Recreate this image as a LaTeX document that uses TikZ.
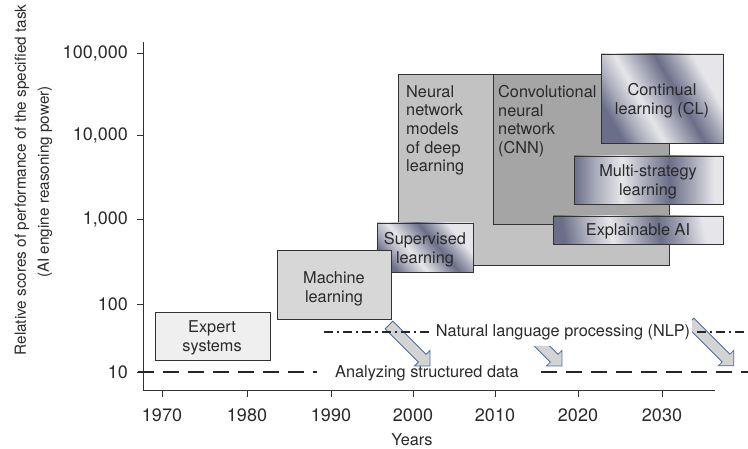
\documentclass[tikz,border=0pt]{standalone}
\usepackage{fontspec}
\setmainfont{TeX Gyre Heros}
\definecolor{txt}{HTML}{2A2A2A}
\definecolor{axisc}{HTML}{333333}
\definecolor{mdark}{HTML}{6A6E88}
\definecolor{mmid}{HTML}{A8AAB9}
\definecolor{mlight}{HTML}{E6E6EA}
\definecolor{expertc}{HTML}{EFEFEF}
\definecolor{machinec}{HTML}{D7D7D7}
\definecolor{neuralc}{HTML}{C2C2C2}
\definecolor{cnnc}{HTML}{A5A5A5}
\definecolor{arrfill}{HTML}{D3D3D3}
\definecolor{arrdraw}{HTML}{4C6FA3}
\pgfdeclarehorizontalshading{metal}{100bp}{color(0bp)=(mdark); color(25bp)=(mdark); color(32bp)=(mmid); color(41bp)=(mlight); color(49bp)=(mmid); color(57bp)=(mdark); color(65bp)=(mmid); color(72bp)=(mlight); color(75bp)=(mlight); color(100bp)=(mlight)}
\newcommand{\blockarr}[2]{%
  \begin{scope}[shift={(#1)},rotate=-45]
    \filldraw[blockarrow] (0,-5.5) -- (#2-11,-5.5) -- (#2-11,-11) -- (#2,0) -- (#2-11,11) -- (#2-11,5.5) -- (0,5.5) -- cycle;
  \end{scope}}
\tikzset{
  boxbase/.style={draw=axisc, line width=0.7pt, text=txt, align=center, inner sep=0pt},
  flatbox/.style={boxbase, fill=#1},
  metalbox/.style={boxbase, shading=metal, shading angle=#1},
  boxtext/.style={text=txt, font=\fontsize{16.3}{18.7}\selectfont, align=center, inner sep=0pt},
  ltext/.style={text=txt, font=\fontsize{16.3}{18.7}\selectfont, align=left, inner sep=0pt, anchor=north west},
  numlab/.style={text=txt, font=\fontsize{18}{20}\selectfont, inner sep=0pt},
  axisline/.style={draw=axisc, line width=0.9pt},
  anline/.style={draw=black!85, line width=2.6pt, dash pattern=on 16pt off 9pt},
  nlpline/.style={draw=black!85, line width=2.2pt, dash pattern=on 9pt off 4pt on 2.2pt off 4pt},
  blockarrow/.style={fill=arrfill, draw=arrdraw, line width=0.8pt, line join=miter},
}
\begin{document}
\begin{tikzpicture}[x=1pt,y=-1pt]
\useasboundingbox (0,0) rectangle (748,449);

% axes
\coordinate (ytop) at (143,42);
\coordinate (orig) at (143,390.5);
\coordinate (xend) at (715,390.5);
\draw[axisline] (ytop) -- (orig) -- (xend);

% y ticks and labels
\foreach \yy/\lab [count=\i] in {53/{100,000},135/{10,000},219/{1,000},304/{100},372/{10}} {
  \coordinate (yt\i) at (137,\yy);
  \coordinate (ya\i) at (143,\yy);
  \draw[axisline] (yt\i) -- (ya\i);
  \node[numlab, anchor=east] (yl\i) at (128,\yy) {\lab};
}
% x ticks and labels
\foreach \xx/\lab [count=\i] in {162/1970,247/1980,331/1990,413/2000,495/2010,578/2020,662/2030} {
  \coordinate (xa\i) at (\xx,390.5);
  \coordinate (xt\i) at (\xx,397);
  \draw[axisline] (xa\i) -- (xt\i);
  \node[numlab] (xl\i) at (\xx,415) {\lab};
}
\node[boxtext] (xtitle) at (412,440) {Years};
\node[text=txt, font=\fontsize{15.3}{17}\selectfont, rotate=90, inner sep=0pt] (ytitle1) at (22,180) {Relative scores of performance of the specified task};
\node[text=txt, font=\fontsize{15.3}{17}\selectfont, rotate=90, inner sep=0pt] (ytitle2) at (45,182) {(AI engine reasoning power)};

% boxes
\path[flatbox=neuralc] (398,74) rectangle (669,265);
\path[flatbox=cnnc] (493,74) rectangle (669,224);
\node[ltext] (nn) at (406,85) {Neural\\network\\models\\of deep\\learning};
\node[ltext] (cnn) at (498,85) {Convolutional\\neural\\network\\(CNN)};

\path[metalbox=30] (601,54) rectangle (723,143);
\node[boxtext] (cl) at (662,101) {Continual\\learning (CL)};
\path[metalbox=0] (574,156) rectangle (723,204);
\node[boxtext] (ms) at (648,182) {Multi-strategy\\learning};
\path[metalbox=10] (553,216) rectangle (723,244);
\node[boxtext] (xai) at (638,231) {Explainable AI};

\path[metalbox=40] (377,223) rectangle (473,272);
\node[boxtext] (sl) at (425,250) {Supervised\\learning};

\path[flatbox=machinec] (277,250) rectangle (391,319);
\node[boxtext] (ml) at (334,289) {Machine\\learning};

\path[flatbox=expertc] (155,312) rectangle (270,360);
\node[boxtext] (es) at (212,338) {Expert\\systems};

% analyzing structured data line
\node[boxtext] (asd) at (427,373) {Analyzing structured data};
\coordinate (asdL0) at (138,372);
\coordinate (asdL1) at (317,372);
\coordinate (asdR0) at (541,372);
\coordinate (asdR1) at (748,372);
\draw[anline] (asdL0) -- (asdL1);
\draw[anline] (asdR0) -- (asdR1);

% NLP line
\coordinate (nlpL0) at (324,332);
\coordinate (nlpL1) at (433,332);
\coordinate (nlpR0) at (697,332);
\coordinate (nlpR1) at (748,332);

% block arrows
\coordinate (ar1) at (389,325);
\coordinate (ar2) at (533,337);
\coordinate (ar3) at (690,322);
\blockarr{ar1}{58}
\blockarr{ar2}{41}
\blockarr{ar3}{62}

\draw[nlpline] (nlpL0) -- (nlpL1);
\draw[nlpline] (nlpR0) -- (nlpR1);
\fill[white] (433,318) rectangle (692,346);
\node[boxtext] (nlp) at (563,332) {Natural language processing (NLP)};
\end{tikzpicture}
\end{document}
